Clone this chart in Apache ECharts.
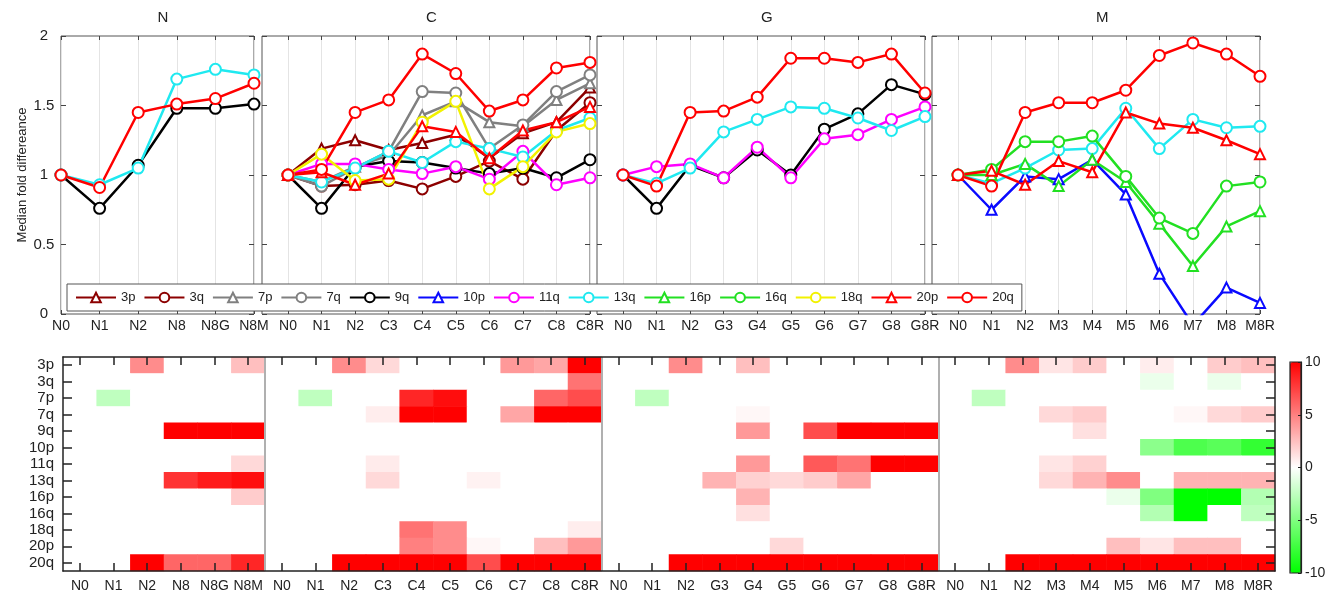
<!DOCTYPE html>
<html><head><meta charset="utf-8">
<script src="https://cdn.jsdelivr.net/npm/echarts@6/dist/echarts.min.js"></script>
<style>html,body{margin:0;padding:0;background:#fff}#c{width:1334px;height:594px}</style>
</head><body><div id="c"></div>
<script>
// ---------- categories ----------
const armNames = ['3p','3q','7p','7q','9q','10p','11q','13q','16p','16q','18q','20p','20q'];
const panelTitles = ['N','C','G','M'];
const catsN = ['N0','N1','N2','N8','N8G','N8M'];
const catsC = ['N0','N1','N2','C3','C4','C5','C6','C7','C8','C8R'];
const catsG = ['N0','N1','N2','G3','G4','G5','G6','G7','G8','G8R'];
const catsM = ['N0','N1','N2','M3','M4','M5','M6','M7','M8','M8R'];
const yTicks = [0, 0.5, 1, 1.5, 2];
const cbarTicks = [-10, -5, 0, 5, 10];

// ---------- line values (median fold difference) ----------
const N_9q  = [1.00, 0.76, 1.07, 1.48, 1.48, 1.51];
const N_13q = [1.00, 0.93, 1.05, 1.69, 1.76, 1.72];
const N_20q = [1.00, 0.91, 1.45, 1.51, 1.55, 1.66];

const C_3p  = [1.00, 1.19, 1.25, 1.18, 1.23, 1.29, 1.12, 1.30, 1.38, 1.63];
const C_3q  = [1.00, 0.92, 0.93, 0.96, 0.90, 0.99, 1.10, 0.97, 1.32, 1.52];
const C_7p  = [1.00, 0.95, 1.06, 1.14, 1.43, 1.53, 1.38, 1.35, 1.54, 1.66];
const C_7q  = [1.00, 0.92, 1.05, 1.17, 1.60, 1.59, 1.19, 1.36, 1.60, 1.72];
const C_9q  = [1.00, 0.76, 1.06, 1.10, 1.09, 1.05, 1.01, 1.05, 0.98, 1.11];
const C_11q = [1.00, 1.08, 1.08, 1.04, 1.01, 1.06, 0.97, 1.17, 0.93, 0.98];
const C_13q = [1.00, 0.95, 1.05, 1.17, 1.09, 1.24, 1.19, 1.13, 1.32, 1.41];
const C_18q = [1.00, 1.15, 0.96, 0.97, 1.38, 1.53, 0.90, 1.06, 1.31, 1.37];
const C_20p = [1.00, 1.02, 0.93, 1.01, 1.35, 1.31, 1.12, 1.32, 1.38, 1.49];
const C_20q = [1.00, 1.04, 1.45, 1.54, 1.87, 1.73, 1.46, 1.54, 1.77, 1.81];

const G_9q  = [1.00, 0.76, 1.07, 0.98, 1.18, 1.00, 1.33, 1.44, 1.65, 1.58];
const G_11q = [1.00, 1.06, 1.08, 0.98, 1.20, 0.98, 1.26, 1.29, 1.40, 1.49];
const G_13q = [1.00, 0.94, 1.05, 1.31, 1.40, 1.49, 1.48, 1.41, 1.32, 1.42];
const G_20q = [1.00, 0.92, 1.45, 1.46, 1.56, 1.84, 1.84, 1.81, 1.87, 1.59];

const M_10p = [1.00, 0.75, 0.99, 0.97, 1.11, 0.86, 0.29, -0.08, 0.19, 0.08];
const M_13q = [1.00, 0.94, 1.05, 1.18, 1.19, 1.48, 1.19, 1.40, 1.34, 1.35];
const M_16p = [1.00, 1.00, 1.08, 0.92, 1.11, 0.95, 0.65, 0.345, 0.63, 0.74];
const M_16q = [1.00, 1.04, 1.24, 1.24, 1.28, 0.99, 0.69, 0.58, 0.92, 0.95];
const M_20p = [1.00, 1.03, 0.93, 1.10, 1.02, 1.45, 1.37, 1.34, 1.25, 1.15];
const M_20q = [1.00, 0.92, 1.45, 1.52, 1.52, 1.61, 1.86, 1.95, 1.87, 1.71];

// ---------- heatmap values (per row; columns = N | C | G | M panels) ----------
const H_3p  = [0,0,4.5,0,0,2.5,   0,0,4.5,1.5,0,0,0,4,3.5,10,   0,0,4.5,0,2.5,0,0,0,0,0,   0,0,4.5,1,2,0,0.7,0,2,2.5];
const H_3q  = [0,0,0,0,0,0,       0,0,0,0,0,0,0,0,0,5.5,        0,0,0,0,0,0,0,0,0,0,       0,0,0,0,0,0,-0.8,0,-0.8,0];
const H_7p  = [0,-2.5,0,0,0,0,    0,-2.5,0,0,8.5,9.5,0,0,6,7,   0,-2.5,0,0,0,0,0,0,0,0,    0,-2.5,0,0,0,0,0,0,0,0];
const H_7q  = [0,0,0,0,0,0,       0,0,0,0.7,10,10,0,3.5,10,10,  0,0,0,0,0.3,0,0,0,0,0,     0,0,0,1.5,2,0,0,0.3,1.5,2];
const H_9q  = [0,0,0,10,10,10,    0,0,0,0,0,0,0,0,0,0,          0,0,0,0,4,0,7,10,10,10,    0,0,0,0,1.2,0,0,0,0,0];
const H_10p = [0,0,0,0,0,0,       0,0,0,0,0,0,0,0,0,0,          0,0,0,0,0,0,0,0,0,0,       0,0,0,0,0,0,-4.5,-7,-6.5,-8];
const H_11q = [0,0,0,0,0,1.5,     0,0,0,0.8,0,0,0,0,0,0,        0,0,0,0,4,0,6.5,5.5,10,10, 0,0,0,1,1.8,0,0,0,0,0];
const H_13q = [0,0,0,8,9,9.5,     0,0,0,1.5,0,0,0.5,0,0,0,      0,0,0,3,1.8,1.5,2,3.5,0,0, 0,0,0,1.5,3,4.5,0,3,3,3];
const H_16p = [0,0,0,0,0,2,       0,0,0,0,0,0,0,0,0,0,          0,0,0,0,3,0,0,0,0,0,       0,0,0,0,0,-0.8,-5,-10,-10,-3];
const H_16q = [0,0,0,0,0,0,       0,0,0,0,0,0,0,0,0,0,          0,0,0,0,1.2,0,0,0,0,0,     0,0,0,0,0,0,-3,-10,0,-2.5];
const H_18q = [0,0,0,0,0,0,       0,0,0,0,5.5,4.5,0,0,0,0.7,    0,0,0,0,0,0,0,0,0,0,       0,0,0,0,0,0,0,0,0,0];
const H_20p = [0,0,0,0,0,0,       0,0,0,0,5,4.5,0.3,0,2.5,4,    0,0,0,0,0,1.5,0,0,0,0,     0,0,0,0,0,2.5,1,2.5,2.5,0];
const H_20q = [0,0,10,6,6,8.5,    0,0,10,10,10,10,7,10,10,10,   0,0,10,10,10,10,10,10,10,10, 0,0,10,10,10,10,10,10,10,10];

// ---------- styles ----------
const armColors = {'3p':'#8c0000','3q':'#8c0000','7p':'#808080','7q':'#808080','9q':'#000000','10p':'#0a0aff',
  '11q':'#ff00ff','13q':'#1fe9f0','16p':'#22e022','16q':'#22e022','18q':'#f2f200','20p':'#ff0000','20q':'#ff0000'};
const FONT = "'Liberation Sans', Arial, sans-serif";
const NARROW = "'Liberation Sans Narrow', 'Liberation Sans', Arial, sans-serif";

// ---------- build ----------
const panelCats = [catsN, catsC, catsG, catsM];
const panelLines = [
  [['9q',N_9q],['13q',N_13q],['20q',N_20q]],
  [['3p',C_3p],['3q',C_3q],['7p',C_7p],['7q',C_7q],['9q',C_9q],['11q',C_11q],['13q',C_13q],['18q',C_18q],['20p',C_20p],['20q',C_20q]],
  [['9q',G_9q],['11q',G_11q],['13q',G_13q],['20q',G_20q]],
  [['10p',M_10p],['13q',M_13q],['16p',M_16p],['16q',M_16q],['20p',M_20p],['20q',M_20q]]
];
const heatRows = [H_3p,H_3q,H_7p,H_7q,H_9q,H_10p,H_11q,H_13q,H_16p,H_16q,H_18q,H_20p,H_20q];
const heatCats = [].concat(catsN, catsC, catsG, catsM);
const panelSizes = panelCats.map(c => c.length);

const topGrids = [
  {left: 61, top: 36, width: 193, height: 278},
  {left: 262, top: 36, width: 328, height: 278},
  {left: 597, top: 36, width: 328, height: 278},
  {left: 932, top: 36, width: 328, height: 278}
];
const grid = [], xAxis = [], yAxis = [], series = [], graphic = [];
topGrids.forEach((g, p) => {
  grid.push(Object.assign({show: true, borderColor: '#555', borderWidth: 1, backgroundColor: 'transparent'}, g));
  const cats = panelCats[p];
  const idx = cats.map((_, i) => i);
  const xmin = p === 0 ? 0 : -0.775;
  const xmax = cats.length - 1;
  xAxis.push({type: 'value', gridIndex: p, min: xmin, max: xmax, position: 'bottom',
    axisLine: {show: false, onZero: false},
    axisTick: {show: true, inside: true, length: 4, customValues: idx, lineStyle: {color: '#444'}},
    axisLabel: {customValues: idx, formatter: v => cats[Math.round(v)], fontSize: 14, margin: 5, color: '#222', fontFamily: FONT},
    splitLine: {show: true, lineStyle: {color: '#e4e4e4', width: 1}}});
  xAxis.push({type: 'value', gridIndex: p, min: xmin, max: xmax, position: 'top',
    axisLine: {show: false, onZero: false},
    axisTick: {show: true, inside: true, length: 4, customValues: idx, lineStyle: {color: '#444'}},
    axisLabel: {show: false}, splitLine: {show: false}});
  yAxis.push({type: 'value', gridIndex: p, min: 0, max: 2, interval: 0.5, position: 'left',
    axisLine: {show: false, onZero: false},
    axisTick: {show: true, inside: true, length: 5, lineStyle: {color: '#444'}},
    axisLabel: {show: p === 0, fontSize: 15, margin: 17, align: 'center', color: '#222', fontFamily: FONT},
    splitLine: {show: false},
    name: p === 0 ? 'Median fold differeance' : '', nameLocation: 'middle', nameGap: 32,
    nameTextStyle: {fontSize: 13, color: '#222', fontFamily: FONT}});
  yAxis.push({type: 'value', gridIndex: p, min: 0, max: 2, interval: 0.5, position: 'right',
    axisLine: {show: false, onZero: false},
    axisTick: {show: true, inside: true, length: 5, lineStyle: {color: '#444'}},
    axisLabel: {show: false}, splitLine: {show: false}});
  panelLines[p].forEach(([arm, vals]) => {
    series.push({type: 'line', name: arm, xAxisIndex: 2 * p, yAxisIndex: 2 * p,
      data: vals.map((v, i) => [i, v]), clip: true,
      symbol: arm.endsWith('p') ? 'emptyTriangle' : 'emptyCircle',
      symbolSize: arm.endsWith('p') ? 10 : 11,
      color: armColors[arm],
      lineStyle: {width: 2.5, color: armColors[arm]},
      itemStyle: {color: armColors[arm], borderWidth: 2},
      emphasis: {disabled: true}, animation: false});
  });
  graphic.push({type: 'text', left: g.left + g.width / 2, top: 10,
    style: {text: panelTitles[p], fontSize: 15, fill: '#222', font: '15px ' + FONT, textAlign: 'center'}});
});

// heatmap grid (index 4)
grid.push({left: 63, top: 357, width: 1212, height: 214, show: false});
const hx = xAxis.length, hy = yAxis.length;
xAxis.push({type: 'category', gridIndex: 4, data: heatCats, position: 'bottom', z: 5,
  axisLine: {show: true, onZero: false, lineStyle: {color: '#222', width: 1.5}},
  axisTick: {show: true, inside: true, length: 8, alignWithLabel: true, interval: 0, lineStyle: {color: '#222', width: 1.5}},
  axisLabel: {interval: 0, fontSize: 14, margin: 8, color: '#222', fontFamily: NARROW}, splitLine: {show: false}});
xAxis.push({type: 'category', gridIndex: 4, data: heatCats, position: 'top', z: 5,
  axisLine: {show: true, onZero: false, lineStyle: {color: '#222', width: 1.5}},
  axisTick: {show: true, inside: true, length: 8, alignWithLabel: true, interval: 0, lineStyle: {color: '#222', width: 1.5}},
  axisLabel: {show: false}, splitLine: {show: false}});
xAxis.push({type: 'value', gridIndex: 4, min: 0, max: heatCats.length, show: false});
yAxis.push({type: 'category', gridIndex: 4, data: armNames, inverse: true, position: 'left', z: 5,
  axisLine: {show: true, onZero: false, lineStyle: {color: '#222', width: 1.5}},
  axisTick: {show: true, inside: true, length: 9, alignWithLabel: true, interval: 0, lineStyle: {color: '#222', width: 1.5}},
  axisLabel: {interval: 0, fontSize: 15, margin: 9, color: '#222', fontFamily: NARROW}, splitLine: {show: false}});
yAxis.push({type: 'category', gridIndex: 4, data: armNames, inverse: true, position: 'right', z: 5,
  axisLine: {show: true, onZero: false, lineStyle: {color: '#222', width: 1.5}},
  axisTick: {show: true, inside: true, length: 9, alignWithLabel: true, interval: 0, lineStyle: {color: '#222', width: 1.5}},
  axisLabel: {show: false}, splitLine: {show: false}});
yAxis.push({type: 'value', gridIndex: 4, min: 0, max: armNames.length, show: false});

const heatData = [];
heatRows.forEach((row, r) => row.forEach((v, c) => heatData.push([c, r, v])));
const heatSeriesIndex = series.length;
series.push({type: 'heatmap', xAxisIndex: hx, yAxisIndex: hy, data: heatData,
  itemStyle: {borderWidth: 0}, emphasis: {disabled: true}, animation: false, progressive: 0});

// panel separators
const sepVals = [];
panelSizes.slice(0, -1).reduce((acc, n) => { acc += n; sepVals.push(acc); return acc; }, 0);
series.push({type: 'line', xAxisIndex: hx + 2, yAxisIndex: hy + 2, data: [[0, 0]], symbol: 'none',
  lineStyle: {opacity: 0}, silent: true, animation: false, z: 3,
  markLine: {symbol: 'none', silent: true, animation: false, label: {show: false},
    lineStyle: {color: '#b0b0b0', width: 2, type: 'solid'},
    data: sepVals.map(v => ({xAxis: v}))}});

// colorbar grid (index 5)
grid.push({left: 1290, top: 362, width: 11, height: 211, show: true, borderColor: '#222', borderWidth: 1.2, backgroundColor: 'transparent', z: 5});
xAxis.push({type: 'value', gridIndex: 5, show: false, min: 0, max: 1});
yAxis.push({type: 'value', gridIndex: 5, min: -10, max: 10, interval: 5, position: 'right', z: 6,
  axisLine: {show: true, onZero: false, lineStyle: {color: '#222', width: 1.2}},
  axisTick: {show: true, inside: true, length: 3, lineStyle: {color: '#222'}},
  axisLabel: {fontSize: 14, margin: 4, color: '#222', fontFamily: FONT, formatter: v => cbarTicks.includes(v) ? String(v) : ''},
  splitLine: {show: false}});

const chart = echarts.init(document.getElementById('c'), null, {renderer: 'canvas'});
chart.setOption({
  animation: false,
  backgroundColor: '#fff',
  textStyle: {fontFamily: FONT},
  grid, xAxis, yAxis, series, graphic,
  legend: {left: 67, top: 284, itemWidth: 40, itemHeight: 12, itemGap: 8, padding: [7, 8, 7, 8],
    backgroundColor: '#fff', borderColor: '#555', borderWidth: 1, selectedMode: false, z: 10,
    textStyle: {fontSize: 13, color: '#222', fontFamily: FONT}, data: armNames},
  visualMap: {type: 'continuous', min: -10, max: 10, seriesIndex: heatSeriesIndex, calculable: false,
    orient: 'vertical', left: 1290, top: 362, itemWidth: 11, itemHeight: 211, padding: 0,
    hoverLink: false, text: null, showLabel: false,
    inRange: {color: ['#00ff00', '#ffffff', '#ff0000']}}
});
</script></body></html>
